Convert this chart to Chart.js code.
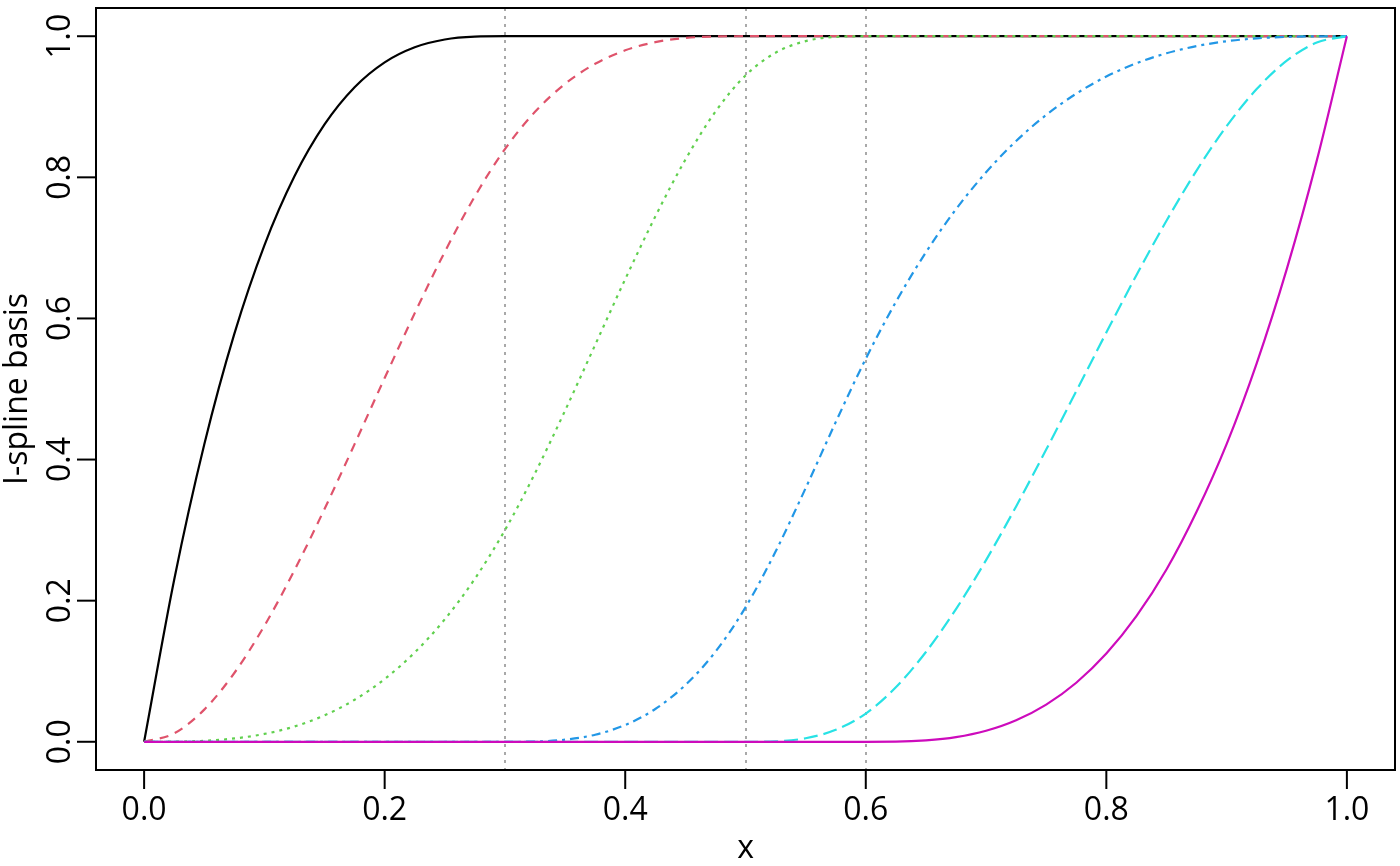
<!DOCTYPE html>
<html>
<head>
<meta charset="utf-8">
<script src="https://cdn.jsdelivr.net/npm/chart.js@4"></script>
<style>
  html, body { margin: 0; padding: 0; background: #fff; }
  #wrap { width: 1400px; height: 866px; }
</style>
</head>
<body>
<div id="wrap"><canvas id="c" width="1400" height="866"></canvas></div>
<script>
// ---- data ----
const xs = [0,0.025,0.05,0.075,0.1,0.125,0.15,0.175,0.2,0.225,0.25,0.275,0.3,0.325,0.35,0.375,0.4,0.425,0.45,0.475,0.5,0.525,0.55,0.575,0.6,0.625,0.65,0.675,0.7,0.725,0.75,0.775,0.8,0.825,0.85,0.875,0.9,0.925,0.95,0.975,1];

const basis1 = [0,0.2297,0.4213,0.5781,0.7037,0.8015,0.875,0.9277,0.963,0.9844,0.9954,0.9994,1,1,1,1,1,1,1,1,1,1,1,1,1,1,1,1,1,1,1,1,1,1,1,1,1,1,1,1,1];
const basis2 = [0,0.0119,0.0456,0.0975,0.1644,0.2431,0.33,0.4219,0.5156,0.6075,0.6944,0.7731,0.84,0.8928,0.9325,0.9609,0.98,0.9916,0.9975,0.9997,1,1,1,1,1,1,1,1,1,1,1,1,1,1,1,1,1,1,1,1,1];
const basis3 = [0,0.0002,0.0014,0.0047,0.0111,0.0217,0.0375,0.0595,0.0889,0.1266,0.1736,0.2311,0.3,0.3806,0.4694,0.5625,0.6556,0.7444,0.825,0.8931,0.9444,0.9766,0.9931,0.9991,1,1,1,1,1,1,1,1,1,1,1,1,1,1,1,1,1];
const basis4 = [0,0,0,0,0,0,0,0,0,0,0,0,0,0.0004,0.003,0.01,0.0238,0.0465,0.0804,0.1276,0.1905,0.2696,0.3595,0.453,0.5429,0.6233,0.6938,0.7548,0.8071,0.8515,0.8884,0.9186,0.9429,0.9617,0.9759,0.986,0.9929,0.997,0.9991,0.9999,1];
const basis5 = [0,0,0,0,0,0,0,0,0,0,0,0,0,0,0,0,0,0,0,0,0,0.0006,0.005,0.0169,0.04,0.0772,0.1272,0.188,0.2575,0.3336,0.4141,0.4969,0.58,0.6612,0.7384,0.8096,0.8725,0.9251,0.9653,0.991,1];
const basis6 = [0,0,0,0,0,0,0,0,0,0,0,0,0,0,0,0,0,0,0,0,0,0,0,0,0,0.0002,0.002,0.0066,0.0156,0.0305,0.0527,0.0837,0.125,0.178,0.2441,0.3259,0.4219,0.5364,0.6699,0.824,1];

const knots = [0.3, 0.5, 0.6];
const xTicks = [0, 0.2, 0.4, 0.6, 0.8, 1.0];
const yTicks = [0, 0.2, 0.4, 0.6, 0.8, 1.0];
const xTickLabels = ["0.0","0.2","0.4","0.6","0.8","1.0"];
const yTickLabels = ["0.0","0.2","0.4","0.6","0.8","1.0"];
const xTitle = "x";
const yTitle = "I-spline basis";

// ---- styles ----
const series = [basis1, basis2, basis3, basis4, basis5, basis6];
const colors = ["#000000", "#DF536B", "#61D04F", "#2297E6", "#28E2E5", "#CD0BBC"];
const dashes = [[], [9, 7], [3, 5], [3, 5, 9, 5], [14, 6], []];
const FONT = '32px "Open Sans", "Noto Sans", sans-serif';

const datasets = series.map((vals, i) => ({
  data: xs.map((x, j) => ({ x: x, y: vals[j] })),
  borderColor: colors[i],
  borderWidth: 2.2,
  borderDash: dashes[i],
  borderCapStyle: 'butt',
  pointRadius: 0,
  fill: false,
  cubicInterpolationMode: 'monotone',
  order: 5 - i
}));

const knotPlugin = {
  id: 'knots',
  beforeDatasetsDraw(chart) {
    const { ctx, chartArea, scales } = chart;
    ctx.save();
    ctx.strokeStyle = '#A9A9A9';
    ctx.lineWidth = 2;
    ctx.setLineDash([3, 5]);
    knots.forEach(k => {
      const px = Math.round(scales.x.getPixelForValue(k));
      ctx.beginPath();
      ctx.moveTo(px, chartArea.top);
      ctx.lineTo(px, chartArea.bottom);
      ctx.stroke();
    });
    ctx.restore();
  }
};

const axesPlugin = {
  id: 'raxes',
  afterDraw(chart) {
    const { ctx, chartArea, scales } = chart;
    const ca = chartArea;
    ctx.save();
    ctx.strokeStyle = '#000';
    ctx.lineWidth = 2;
    ctx.setLineDash([]);
    ctx.strokeRect(ca.left, ca.top, ca.right - ca.left, ca.bottom - ca.top);
    ctx.fillStyle = '#000';
    ctx.font = FONT;
    // x axis
    ctx.textAlign = 'center';
    ctx.textBaseline = 'alphabetic';
    xTicks.forEach((v, i) => {
      const px = scales.x.getPixelForValue(v);
      ctx.beginPath();
      ctx.moveTo(px, ca.bottom);
      ctx.lineTo(px, ca.bottom + 19);
      ctx.stroke();
      ctx.fillText(xTickLabels[i], px, ca.bottom + 50);
    });
    // y axis
    yTicks.forEach((v, i) => {
      const py = scales.y.getPixelForValue(v);
      ctx.beginPath();
      ctx.moveTo(ca.left, py);
      ctx.lineTo(ca.left - 19, py);
      ctx.stroke();
      ctx.save();
      ctx.translate(ca.left - 26, py);
      ctx.rotate(-Math.PI / 2);
      ctx.fillText(yTickLabels[i], 0, 0);
      ctx.restore();
    });
    // titles
    const midX = (scales.x.getPixelForValue(0) + scales.x.getPixelForValue(1)) / 2;
    ctx.fillText(xTitle, (ca.left + ca.right) / 2, ca.bottom + 88);
    ctx.save();
    ctx.translate(27, (ca.top + ca.bottom) / 2);
    ctx.rotate(-Math.PI / 2);
    ctx.fillText(yTitle, 0, 0);
    ctx.restore();
    ctx.restore();
  }
};

new Chart(document.getElementById('c'), {
  type: 'line',
  data: { datasets },
  options: {
    responsive: false,
    animation: false,
    devicePixelRatio: 1,
    layout: { padding: { left: 96, right: 5, top: 8, bottom: 96 } },
    plugins: { legend: { display: false }, tooltip: { enabled: false } },
    scales: {
      x: { type: 'linear', min: -0.04, max: 1.04, display: false },
      y: { type: 'linear', min: -0.04, max: 1.04, display: false }
    }
  },
  plugins: [knotPlugin, axesPlugin]
});
</script>
</body>
</html>
